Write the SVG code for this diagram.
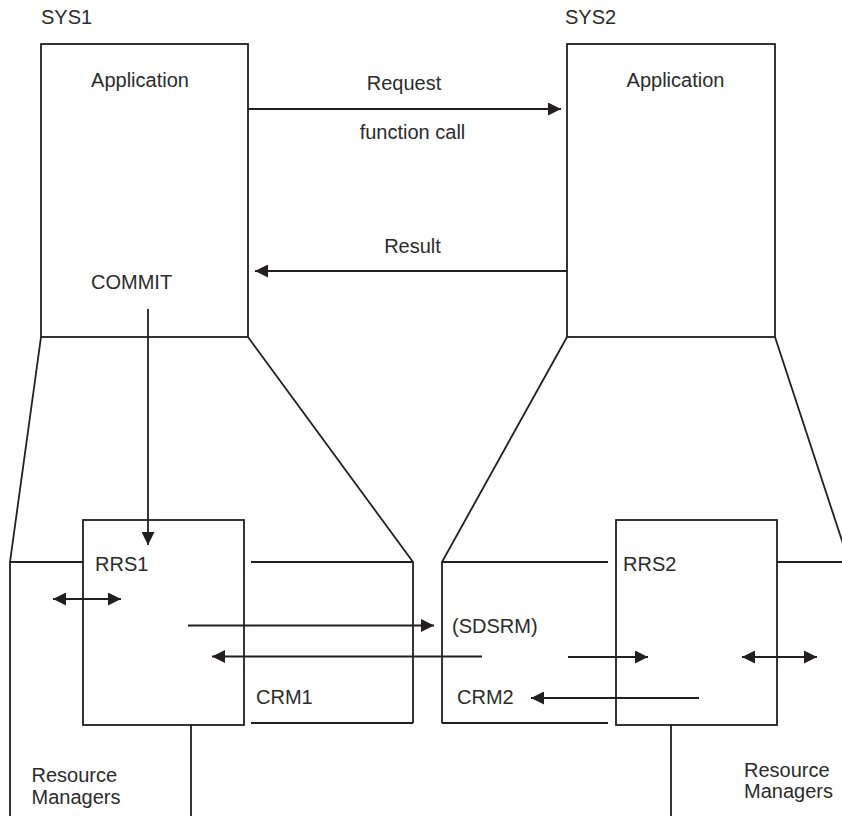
<svg xmlns="http://www.w3.org/2000/svg" width="842" height="816" viewBox="0 0 842 816">
<style>
  .ln{stroke:#231f20;stroke-width:1.8;fill:none}
  .bx{stroke:#231f20;stroke-width:1.8;fill:none}
  .t{font-family:"Liberation Sans",Arial,sans-serif;font-size:20px;fill:#2b2b2b}
  .m{text-anchor:middle}
  .ar{stroke:#231f20;stroke-width:1.8;fill:none;marker-end:url(#ah)}
  .dar{stroke:#231f20;stroke-width:1.8;fill:none;marker-end:url(#ah);marker-start:url(#ah)}
</style>
<defs>
  <marker id="ah" markerUnits="userSpaceOnUse" markerWidth="14" markerHeight="13" refX="13" refY="6.5" orient="auto-start-reverse">
    <path d="M0,0 L13,6.5 L0,13 z" fill="#231f20"/>
  </marker>
</defs>
<rect width="842" height="816" fill="#ffffff"/>

<g id="sys1">
  <text class="t" x="41" y="24">SYS1</text>
  <rect class="bx" x="41" y="44" width="207" height="293"/>
  <text class="t m" x="140" y="87">Application</text>
  <text class="t" x="91" y="289">COMMIT</text>
</g>

<g id="sys2">
  <text class="t" x="565" y="24">SYS2</text>
  <rect class="bx" x="567" y="44" width="208" height="293"/>
  <text class="t m" x="675.5" y="87">Application</text>
</g>

<g id="sys1-expansion">
  <polyline class="ln" points="41,337 10,562 10,816"/>
  <line class="ln" x1="10" y1="562" x2="83" y2="562"/>
  <polyline class="ln" points="248,337 413,562 413,723"/>
  <line class="ln" x1="251" y1="562" x2="413" y2="562"/>
  <line class="ln" x1="251" y1="723" x2="413" y2="723"/>
  <line class="ln" x1="191" y1="725" x2="191" y2="816"/>
  <text class="t" x="31.5" y="782">Resource</text>
  <text class="t" x="31.5" y="804">Managers</text>
  <text class="t" x="256" y="704">CRM1</text>
</g>

<g id="sys2-expansion">
  <polyline class="ln" points="567,337 442,562 442,723"/>
  <line class="ln" x1="442" y1="562" x2="608" y2="562"/>
  <line class="ln" x1="442" y1="723" x2="608" y2="723"/>
  <line class="ln" x1="775" y1="337" x2="849" y2="562"/>
  <line class="ln" x1="777" y1="562" x2="849" y2="562"/>
  <line class="ln" x1="671" y1="725" x2="671" y2="816"/>
  <text class="t" x="744" y="777">Resource</text>
  <text class="t" x="744" y="798">Managers</text>
  <text class="t" x="457" y="704">CRM2</text>
  <text class="t" x="452" y="633">(SDSRM)</text>
</g>

<g id="rrs1">
  <rect class="bx" x="83" y="520" width="161" height="205"/>
  <text class="t" x="95" y="571">RRS1</text>
</g>

<g id="rrs2">
  <rect class="bx" x="616" y="520" width="161" height="205"/>
  <text class="t" x="623" y="571">RRS2</text>
</g>

<g id="connectors">
  <line class="ar" x1="248" y1="109" x2="561" y2="109"/>
  <text class="t m" x="404" y="90">Request</text>
  <text class="t m" x="412.5" y="139">function call</text>
  <line class="ar" x1="567" y1="271" x2="255" y2="271"/>
  <text class="t m" x="412.5" y="253">Result</text>
  <line class="ar" x1="148" y1="309" x2="148" y2="545"/>
  <line class="dar" x1="53" y1="599" x2="121" y2="599"/>
  <line class="ar" x1="188" y1="625.5" x2="434" y2="625.5"/>
  <line class="ar" x1="482" y1="656.5" x2="212" y2="656.5"/>
  <line class="ar" x1="568" y1="657" x2="648" y2="657"/>
  <line class="dar" x1="742" y1="657" x2="817" y2="657"/>
  <line class="ar" x1="699" y1="698" x2="531" y2="698"/>
</g>
</svg>
